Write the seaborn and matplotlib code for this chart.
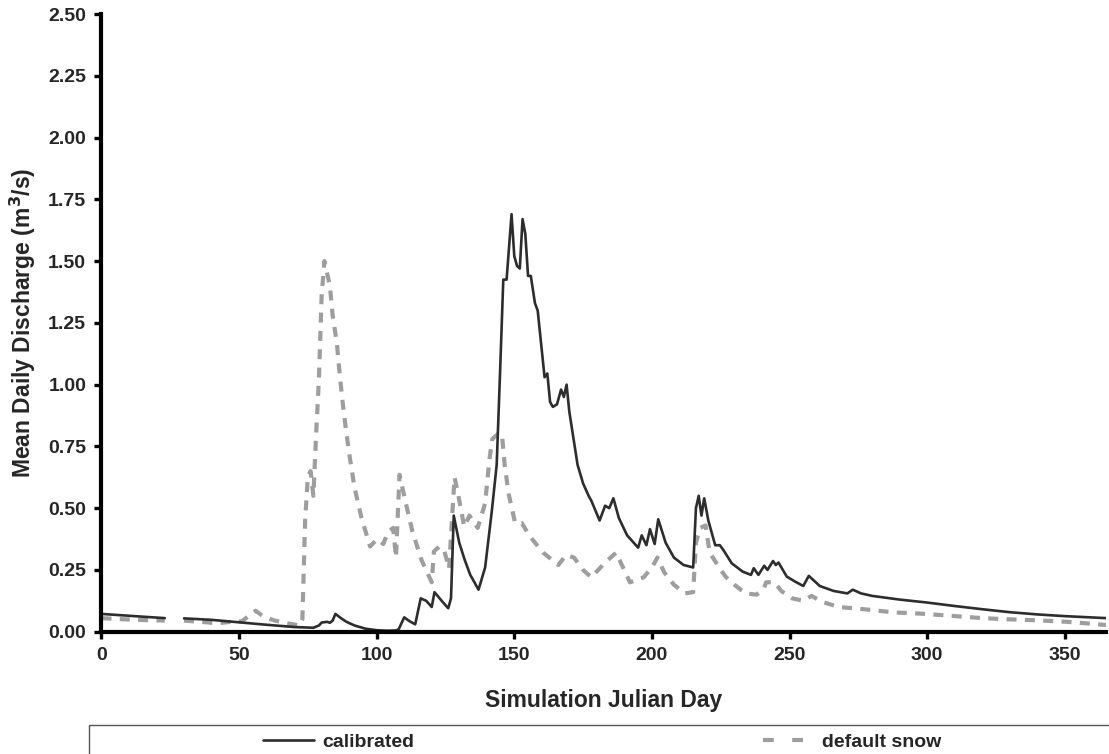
import numpy as np
import pandas as pd
import seaborn as sns
import matplotlib
matplotlib.use("Agg")
import matplotlib.pyplot as plt
from matplotlib.lines import Line2D
from matplotlib.patches import Rectangle

# ---------------- data ----------------
series_labels = ["calibrated", "default snow"]

# NaN marks the gap in the record (days 24-29)
cal_days = [0, 8, 16, 23, 26, 30, 40, 50, 60, 70, 77, 79, 80, 82, 83, 84, 85, 87, 89, 92, 96,
            100, 104, 107, 108, 110, 112, 114, 116, 118, 120, 121, 124, 126, 127, 128, 130,
            132, 134, 137, 139.4, 141.8, 143.6, 144.8, 146, 147.2, 149, 150, 151, 152, 153,
            154, 155, 156, 157.5, 158.5, 161, 162, 163, 164, 165.5, 167, 168, 169, 170, 173,
            175, 177, 178, 181, 183, 184.5, 186, 188, 191, 195, 196.3, 198, 199.3, 201, 202.3,
            205, 208, 211.5, 215, 216, 217, 218, 219, 220.5, 223, 224.7, 226, 229, 233, 236,
            237, 238.7, 240.8, 242, 244, 245, 246, 249, 252, 255, 257, 261, 266, 271, 273,
            276, 280, 290, 300, 310, 320, 330, 340, 350, 365]
cal_q = [0.072, 0.066, 0.060, 0.055, np.nan, 0.054, 0.048, 0.038, 0.028, 0.019, 0.016, 0.025,
         0.037, 0.040, 0.036, 0.045, 0.072, 0.055, 0.040, 0.025, 0.012,
         0.006, 0.004, 0.005, 0.010, 0.058, 0.042, 0.030, 0.135, 0.125, 0.100, 0.160, 0.120,
         0.095, 0.135, 0.470, 0.360,
         0.290, 0.230, 0.170, 0.260, 0.485, 0.675, 1.040, 1.425, 1.425, 1.690, 1.520, 1.480,
         1.470, 1.670,
         1.610, 1.440, 1.440, 1.330, 1.300, 1.030, 1.045, 0.930, 0.910, 0.920, 0.980, 0.950,
         1.000, 0.890, 0.675,
         0.600, 0.550, 0.530, 0.450, 0.510, 0.500, 0.540, 0.460, 0.390, 0.340, 0.390, 0.350,
         0.415, 0.355, 0.455,
         0.360, 0.300, 0.270, 0.260, 0.500, 0.550, 0.470, 0.540, 0.450, 0.350, 0.350, 0.330,
         0.277, 0.243, 0.230,
         0.257, 0.230, 0.267, 0.250, 0.286, 0.270, 0.280, 0.223, 0.203, 0.185, 0.226, 0.185,
         0.165, 0.155, 0.170,
         0.155, 0.145, 0.130, 0.118, 0.104, 0.091, 0.079, 0.070, 0.063, 0.055]

def_days = [0, 5, 12, 23, 26, 30, 36, 42, 47, 51, 56, 59, 63, 68, 72, 73, 74, 75, 76, 77, 78,
            79, 80, 81, 83, 84, 85.5, 86.5, 87.5, 88.8, 90.3, 92, 94.5, 97.6, 100.2, 102.4,
            104.2, 106, 107, 108.3, 110.6, 113, 116.3, 120, 120.8, 122.8, 124.5, 126.3, 127.6,
            128.3, 129.7, 131.8, 133.7, 136.7, 139.4, 141, 142, 144, 145.5, 146.5, 148, 150.3,
            152.7, 155.7, 160.5, 166, 168.8, 171.7, 175, 178, 183, 187, 192, 197, 200, 202,
            204.5, 208, 212, 215, 216, 217.5, 219.5, 221, 225, 227, 230, 234, 238, 240.5,
            241.5, 244.5, 247, 251, 255, 258, 262, 268, 278, 288, 298, 309, 320, 330, 340,
            351, 361, 365]
def_q = [0.055, 0.052, 0.048, 0.045, np.nan, 0.045, 0.040, 0.034, 0.040, 0.042, 0.085, 0.060,
         0.045, 0.033, 0.025, 0.050, 0.450, 0.630, 0.650, 0.550, 0.800,
         1.020, 1.360, 1.500, 1.400, 1.280, 1.170, 1.050, 0.940, 0.820, 0.700, 0.580, 0.460,
         0.345, 0.375, 0.355,
         0.405, 0.420, 0.300, 0.635, 0.520, 0.405, 0.290, 0.200, 0.325, 0.345, 0.330, 0.255,
         0.500,
         0.625, 0.550, 0.425, 0.470, 0.420, 0.520, 0.700, 0.780, 0.800, 0.800, 0.675, 0.555,
         0.440,
         0.440, 0.385, 0.320, 0.270, 0.310, 0.300, 0.250, 0.220, 0.280, 0.320, 0.200, 0.220,
         0.260, 0.300,
         0.240, 0.190, 0.155, 0.160, 0.360, 0.420, 0.430, 0.320, 0.250, 0.220, 0.190, 0.155,
         0.150, 0.170,
         0.200, 0.200, 0.165, 0.135, 0.125, 0.145, 0.120, 0.100, 0.090, 0.078, 0.073, 0.064,
         0.055, 0.050, 0.046,
         0.040, 0.031, 0.027]

x_ticks = [0, 50, 100, 150, 200, 250, 300, 350]
y_ticks = [0.00, 0.25, 0.50, 0.75, 1.00, 1.25, 1.50, 1.75, 2.00, 2.25, 2.50]


def to_frame(days, q, label):
    df = pd.DataFrame({"day": days, "q": q})
    df["segment"] = df["q"].isna().cumsum()
    df = df.dropna()
    df["series"] = label
    return df


cal_df = to_frame(cal_days, cal_q, series_labels[0])
def_df = to_frame(def_days, def_q, series_labels[1])

# ---------------- style ----------------
sns.set_style("ticks")
plt.rcParams["font.family"] = ["Liberation Sans", "DejaVu Sans"]
plt.rcParams["font.weight"] = "bold"
plt.rcParams["axes.labelweight"] = "bold"

CAL_COLOR = "#2d2d2d"
DEF_COLOR = "#9e9e9e"
DEF_LW = 3.0
DEF_LS = (0, (2.4, 2.0))

fig = plt.figure(figsize=(11.09, 7.54), dpi=100)
ax = fig.add_axes([0.0915, 0.1622, 0.9058, 0.8192])

sns.lineplot(data=def_df, x="day", y="q", units="segment", estimator=None, sort=False,
             color=DEF_COLOR, linewidth=DEF_LW, linestyle=DEF_LS, legend=False, ax=ax)
sns.lineplot(data=cal_df, x="day", y="q", units="segment", estimator=None, sort=False,
             color=CAL_COLOR, linewidth=1.9, legend=False, ax=ax)

ax.set_xlim(0, 365)
ax.set_ylim(0, 2.5)
ax.set_xticks(x_ticks)
ax.set_yticks(y_ticks)
ax.set_yticklabels([f"{v:.2f}" for v in y_ticks])
ax.set_xticklabels([str(v) for v in x_ticks])

sns.despine(ax=ax)
for s in ("left", "bottom"):
    ax.spines[s].set_linewidth(3.0)
    ax.spines[s].set_color("black")
ax.tick_params(direction="out", length=5, width=2.4, labelsize=14, pad=6, color="black")
for lab in ax.get_xticklabels() + ax.get_yticklabels():
    lab.set_fontweight("bold")

ax.set_xlabel("Simulation Julian Day", fontsize=16.5, fontweight="bold")
ax.set_ylabel("Mean Daily Discharge (m$^\\mathbf{3}$/s)", fontsize=16.5, fontweight="bold")
ax.xaxis.set_label_coords(0.5, -0.1106)
ax.xaxis.label.set_verticalalignment("center")
ax.yaxis.set_label_coords(-0.078, 0.5)
ax.yaxis.label.set_verticalalignment("center")

# ---------------- legend strip at bottom ----------------
fig.patches.append(Rectangle((89 / 1109, -0.05), 1.0, 0.05 + 29 / 754,
                             transform=fig.transFigure, fill=False,
                             edgecolor="#555555", linewidth=1.0))
h_cal = Line2D([], [], color=CAL_COLOR, linewidth=1.9)
h_def = Line2D([], [], color=DEF_COLOR, linewidth=DEF_LW, linestyle=(0, (2.6, 4.4)))
leg_y = (754 - 741.7) / 754
for h, lab, x0 in ((h_cal, series_labels[0], 263), (h_def, series_labels[1], 763)):
    fig.legend(handles=[h], labels=[lab], loc="center left",
               bbox_to_anchor=(x0 / 1109, leg_y), frameon=False, borderpad=0,
               borderaxespad=0, handlelength=2.6, handletextpad=0.45,
               prop={"size": 14, "weight": "bold"})

fig.savefig("out.png", dpi=100)
